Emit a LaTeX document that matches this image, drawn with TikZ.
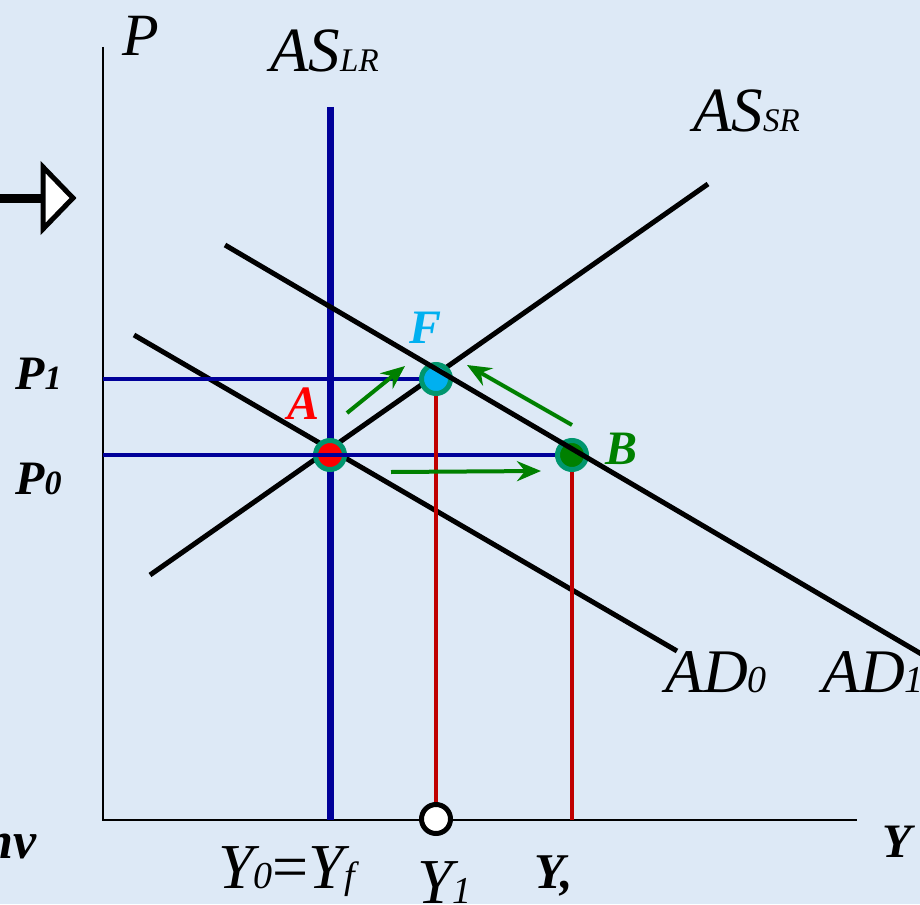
\documentclass[tikz,border=0pt]{standalone}
\usepackage{fontspec}
\setmainfont{Liberation Serif}
\usetikzlibrary{arrows.meta}
\definecolor{bgc}{RGB}{221,233,246}
\definecolor{axblue}{RGB}{0,0,153}
\definecolor{lred}{RGB}{192,0,0}
\definecolor{tealc}{RGB}{0,150,110}
\definecolor{skyc}{RGB}{0,176,240}
\definecolor{grn}{RGB}{0,128,0}
\newcommand{\fsz}[1]{\fontsize{#1}{#1}\selectfont}
\begin{document}
\begin{tikzpicture}[x=1pt,y=-1pt,
  curve/.style={line width=5pt},
  lab/.style={inner sep=0pt, anchor=base west, font=\itshape},
  blab/.style={inner sep=0pt, anchor=base west, font=\bfseries\itshape},
  eqpt/.style={circle, draw=tealc, line width=5pt, minimum size=29pt, inner sep=0pt},
  garrow/.style={grn, line width=4pt, -{Stealth[length=24pt,width=20pt,inset=8pt]}},
  hline/.style={axblue, line width=4pt},
  vline/.style={lred, line width=4pt}]
\fill[bgc] (0,0) rectangle (920,904);
\useasboundingbox (0,0) rectangle (920,904);
% coordinates
\coordinate (O) at (103,820);
\coordinate (Ptop) at (103,47);
\coordinate (Yend) at (857,820);
\coordinate (LRtop) at (330,107);
\coordinate (LRbot) at (330,820);
\coordinate (SR1) at (150,575);
\coordinate (SR2) at (708,184);
\coordinate (D01) at (134,335);
\coordinate (D02) at (677,651);
\coordinate (D11) at (225,245);
\coordinate (D12) at (935,662);
\coordinate (P1L) at (103,379);
\coordinate (P0L) at (103,455);
\coordinate (Bfoot) at (572,820);
\coordinate (g1s) at (347,413);
\coordinate (g1e) at (405,366);
\coordinate (g2s) at (572,425);
\coordinate (g2e) at (467,365);
\coordinate (g3s) at (391,472);
\coordinate (g3e) at (541,471);
\coordinate (arS) at (0,198);
\coordinate (arE) at (44,198);
% top-left hollow arrow
\draw[line width=9pt] (arS) -- (arE);
\draw[line width=5pt, fill=white, line join=miter] (43,167) -- (73,198) -- (43,229) -- cycle;
% axes
\draw[line width=2pt] (Ptop) -- (O) -- (Yend);
% long-run AS
\draw[axblue, line width=7pt] (LRtop) -- (LRbot);
% curves
\draw[curve] (SR1) -- (SR2);
\draw[curve] (D01) -- (D02);
% equilibrium points
\node[eqpt, fill=red] (nA) at (330,455) {};
\node[eqpt, fill=skyc] (nF) at (436,379) {};
\node[eqpt, fill=grn] (nB) at (572,455) {};
\draw[curve] (D11) -- (D12);
% guide lines
\draw[hline] (P1L) -- (nF.west);
\draw[hline] (P0L) -- (nB.west);
\node[circle, draw=black, fill=white, line width=5pt, minimum size=29pt, inner sep=0pt] (nY) at (436,819) {};
\draw[vline] (nF.south) -- (nY.north);
\draw[vline] (nB.south) -- (Bfoot);
% green arrows
\draw[garrow] (g1s) -- (g1e);
\draw[garrow] (g2s) -- (g2e);
\draw[garrow] (g3s) -- (g3e);
% labels
\node[lab] (lP) at (122,56) {\fsz{60}P};
\node[lab] (lLR) at (270,72) {\fsz{63}AS\fsz{33}LR};
\node[lab] (lSR) at (693,132) {\fsz{63}AS\fsz{33}SR};
\node[blab] (lP1) at (15,389) {\fsz{48}P\fsz{34}1};
\node[blab] (lP0) at (15,494) {\fsz{48}P\fsz{34}0};
\node[blab, text=red] (lA) at (287,419) {\fsz{48}A};
\node[blab, text=skyc] (lF) at (409,343) {\fsz{48}F};
\node[blab, text=grn] (lB) at (605,464) {\fsz{48}B};
\node[lab] (lAD0) at (665,692) {\fsz{62}AD\fsz{38}0};
\node[lab] (lAD1) at (822,692) {\fsz{62}AD\fsz{38}1};
\node[blab] (lY) at (882,857) {\fsz{48}Y};
\node[blab, anchor=base east] (lnv) at (37,858) {\fsz{52}nv};
\node[lab] (lY0) at (218,888) {\fsz{64}Y\fsz{38}0\fsz{64}\upshape=\itshape Y\fsz{38}f};
\node[lab] (lY1) at (417,903) {\fsz{64}Y\fsz{38}1};
\node[blab] (lYc) at (534,888) {\fsz{50}Y,};
\end{tikzpicture}
\end{document}
